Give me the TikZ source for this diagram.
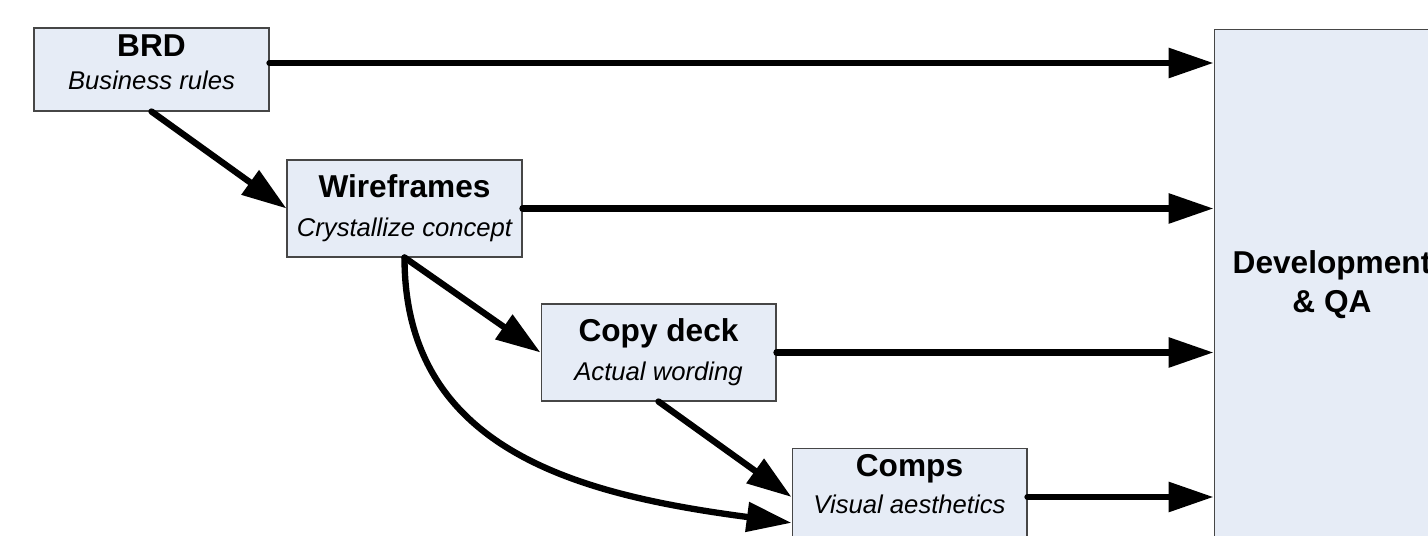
\documentclass[tikz,border=0pt]{standalone}
\usepackage{fontspec}
\setmainfont{Liberation Sans}
\usetikzlibrary{arrows.meta}
\definecolor{boxfill}{RGB}{230,236,246}
\definecolor{boxline}{RGB}{70,70,70}
\begin{document}
\begin{tikzpicture}[x=0.02cm, y=0.02cm,
  stage/.style={draw=boxline, line width=0.6pt, fill=boxfill, inner sep=0pt,
    minimum width=4.7cm, minimum height=1.94cm, align=center,
    font=\fontsize{14.6}{22}\selectfont},
  flow/.style={line width=3.6pt, line cap=round,
    -{Triangle[length=25.5pt,width=16.4pt]}}]
\useasboundingbox (0,0) rectangle (1428,-536);
\clip (0,0) rectangle (1428,-536);

\draw (151.5,-69.5) node[stage, minimum height=1.66cm, text depth=8pt] (brd)
  {{\bfseries\fontsize{18}{22}\selectfont BRD}\\[-3.3pt]{\itshape Business rules}};
\draw (404.5,-208.5) node[stage] (wire)
  {{\bfseries\fontsize{18}{22}\selectfont Wireframes}\\{\itshape Crystallize concept}};
\draw (658.5,-352.5) node[stage] (copy)
  {{\bfseries\fontsize{18}{22}\selectfont Copy deck}\\{\itshape Actual wording}};
\draw (909.5,-497) node[stage, text depth=14.7pt] (comps)
  {{\bfseries\fontsize{18}{22}\selectfont Comps}\\[-1pt]{\itshape Visual aesthetics}};
\draw (1332,-284.5) node[stage, minimum width=4.72cm, minimum height=10.22cm,
  font=\fontsize{18}{22}\selectfont\bfseries] (dev) {Development\\\& QA};

\coordinate (brdout) at ([yshift=3.7pt]brd.east);
\draw[flow] (brdout) -- (brdout -| dev.west);
\draw[flow] (wire.east) -- (wire.east -| dev.west);
\draw[flow] (copy.east) -- (copy.east -| dev.west);
\draw[flow] (comps.east) -- (comps.east -| dev.west);

\draw[flow] (brd.south) -- (wire.west);
\draw[flow] (wire.south) -- (copy.west);
\draw[flow] (copy.south) -- (comps.west);
\draw[flow] (wire.south) .. controls +(0,-193) and +(-212,28) .. ([yshift=-14.7pt]comps.west);

\end{tikzpicture}
\end{document}
